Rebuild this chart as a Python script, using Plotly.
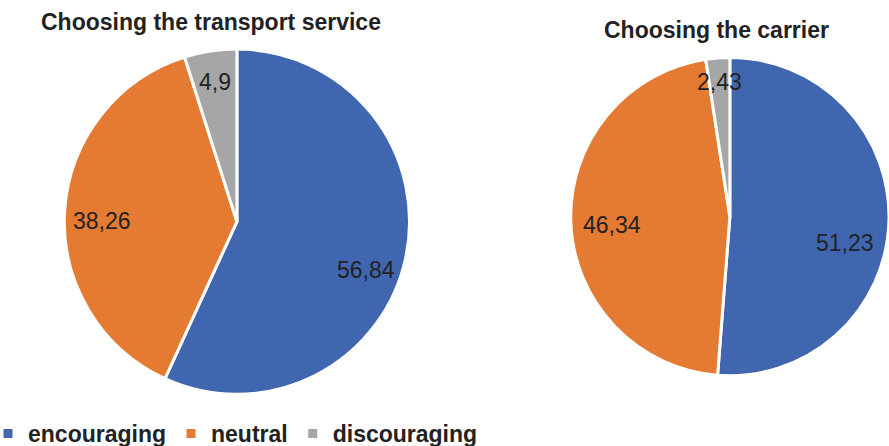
import math
import plotly.graph_objects as go

categories = ["encouraging", "neutral", "discouraging"]
transport_service = [56.84, 38.26, 4.9]
carrier = [51.23, 46.34, 2.43]
colors = ["#3F66AF", "#E57A33", "#A6A6A6"]

W, H = 889, 446
FONT = "Liberation Sans, Arial"
TEXT = "#222222"

# each pie: values, title, domain, label radius (share of the pie radius), label angle nudge (deg)
pies = [
    dict(values=transport_service, title="Choosing the transport service",
         domain=dict(x=[0.072, 0.461], y=[0.116, 0.890]), title_xy=(211, 22),
         label_r=[0.80, 0.78, 0.82], label_nudge=[8, -3, 0]),
    dict(values=carrier, title="Choosing the carrier",
         domain=dict(x=[0.642, 1.0], y=[0.157, 0.872]), title_xy=(716, 30),
         label_r=[0.74, 0.74, 0.85], label_nudge=[11, -2, 0]),
]

fig = go.Figure()
annotations = []

for p in pies:
    fig.add_trace(go.Pie(
        labels=categories, values=p["values"], name=p["title"],
        domain=p["domain"], sort=False, direction="clockwise", rotation=0,
        marker=dict(colors=colors, line=dict(color="white", width=3)),
        textinfo="none", hoverinfo="label+value",
    ))

    # value labels placed along each slice's mid-angle
    dx0, dx1 = p["domain"]["x"]
    dy0, dy1 = p["domain"]["y"]
    cx = (dx0 + dx1) / 2 * W
    cy = (1 - (dy0 + dy1) / 2) * H
    radius = min((dx1 - dx0) * W, (dy1 - dy0) * H) / 2
    total = sum(p["values"])
    start = 0.0
    for v, fr, nudge in zip(p["values"], p["label_r"], p["label_nudge"]):
        mid = (start + v / 2) / total * 360 + nudge
        start += v
        a = math.radians(mid)
        px = cx + fr * radius * math.sin(a)
        py = cy - fr * radius * math.cos(a)
        annotations.append(dict(
            text=f"{v:g}".replace(".", ","), x=px / W, y=1 - py / H,
            xref="paper", yref="paper", showarrow=False,
            xanchor="center", yanchor="middle",
            font=dict(size=23, family=FONT, color=TEXT),
        ))

    tx, ty = p["title_xy"]
    annotations.append(dict(
        text=f"<b>{p['title']}</b>", x=tx / W, y=1 - ty / H,
        xref="paper", yref="paper", showarrow=False,
        xanchor="center", yanchor="middle",
        font=dict(size=23, family=FONT, color=TEXT),
    ))

fig.update_layout(
    width=W, height=H,
    margin=dict(l=0, r=0, t=0, b=0, autoexpand=False),
    paper_bgcolor="white",
    separators=", ",
    font=dict(family=FONT, color=TEXT),
    showlegend=True,
    legend=dict(
        orientation="h", x=-12 / W, y=-9 / H, xanchor="left", yanchor="bottom",
        font=dict(size=23, family=FONT, color=TEXT, weight="bold"),
        itemwidth=30, traceorder="normal",
    ),
    annotations=annotations,
)

fig.write_html("out.html")
